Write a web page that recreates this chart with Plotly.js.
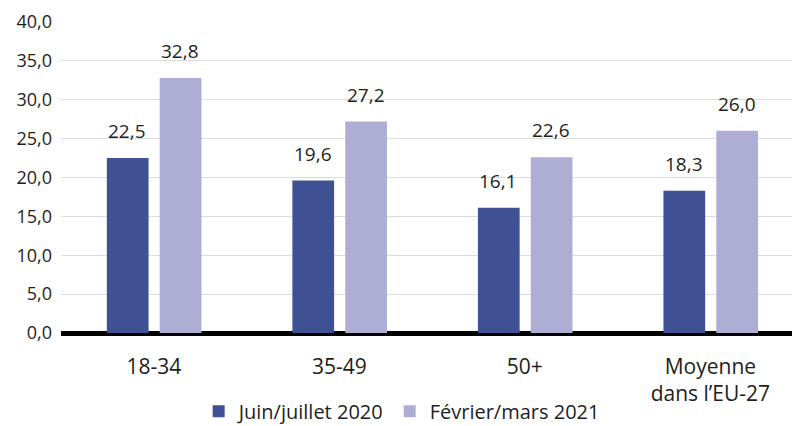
<!DOCTYPE html>
<html><head><meta charset="utf-8">
<script src="https://cdn.plot.ly/plotly-3.0.1.min.js"></script>
<style>html,body{margin:0;padding:0;background:#fff}</style>
</head><body><div id="chart" style="width:792px;height:426px"></div>
<script>
const categories = ["18-34", "35-49", "50+", "Moyenne<br>dans l’EU-27"];
const seriesNames = ["Juin/juillet 2020", "Février/mars 2021"];
const values2020 = [22.5, 19.6, 16.1, 18.3];
const values2021 = [32.8, 27.2, 22.6, 26.0];
const yTicks = [0, 5, 10, 15, 20, 25, 30, 35, 40];

const colors = ["#3f5193", "#aeaed4"];
const font = "'Open Sans', 'Noto Sans', sans-serif";
const textColor = '#1e1e1e';
const fmt = v => v.toFixed(1).replace('.', ',');

const traces = [values2020, values2021].map((vals, i) => ({
  type: 'bar', x: categories, y: vals, name: seriesNames[i],
  marker: {color: colors[i]}, width: 0.225,
  offset: i === 0 ? -0.253 : 0.032, hoverinfo: 'skip'
}));

const annotations = [];
[values2020, values2021].forEach((vals, i) => {
  vals.forEach((v, j) => {
    annotations.push({
      x: categories[j], y: v, xref: 'x', yref: 'y', text: fmt(v), showarrow: false,
      yanchor: 'bottom', xshift: i === 0 ? -26.5 : 26.5, yshift: 12,
      font: {family: font, size: 19, color: textColor}
    });
  });
});

const layout = {
  width: 792, height: 426,
  margin: {l: 61, r: 0, t: 22, b: 93, autoexpand: false},
  paper_bgcolor: '#fff', plot_bgcolor: '#fff',
  separators: ', ',
  showlegend: true,
  legend: {orientation: 'h', x: 0.466, xanchor: 'center', y: -0.252, yanchor: 'middle',
    font: {family: font, size: 20, color: textColor}, itemwidth: 30, traceorder: 'normal'},
  xaxis: {type: 'category', range: [-0.5, 3.44], showgrid: false, zeroline: false,
    showline: false, ticks: '', ticklabelstandoff: 19,
    tickfont: {family: font, size: 21, color: textColor}},
  yaxis: {range: [0, 40], tickvals: yTicks, tickformat: '.1f', showgrid: true,
    gridcolor: '#dcdcdc', gridwidth: 1, zeroline: true, zerolinecolor: '#000',
    zerolinewidth: 5, ticks: '', ticklabelstandoff: 8,
    tickfont: {family: font, size: 18, color: textColor}},
  annotations: annotations,
  font: {family: font}
};

Plotly.newPlot('chart', traces, layout, {displayModeBar: false, staticPlot: true});
</script></body></html>
